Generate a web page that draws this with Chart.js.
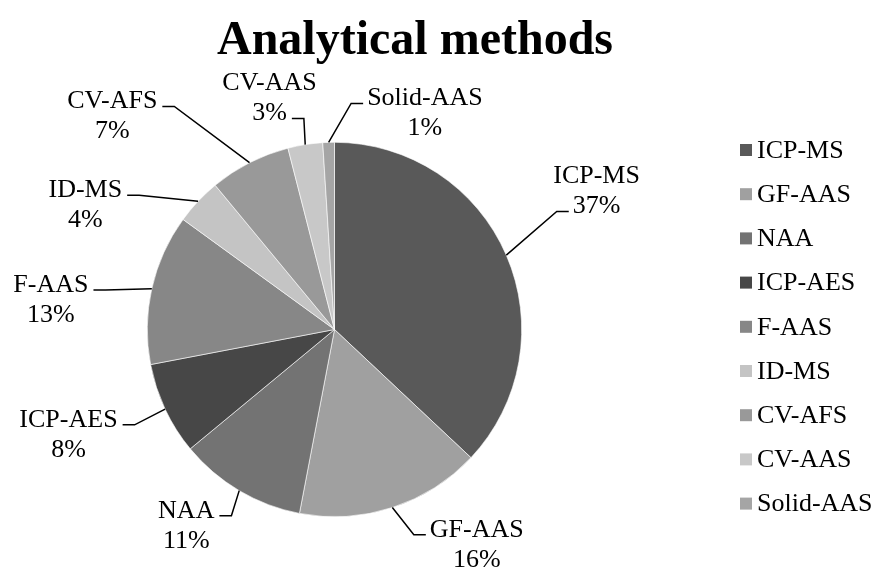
<!DOCTYPE html>
<html>
<head>
<meta charset="utf-8">
<title>Analytical methods</title>
<script src="https://cdn.jsdelivr.net/npm/chart.js@4.4.1/dist/chart.umd.min.js"></script>
<style>
    html, body { margin: 0; padding: 0; background: #ffffff; }
    #wrap { width: 879px; height: 568px; position: relative; }
</style>
</head>
<body>
<div id="wrap"><canvas id="methodsChart"></canvas></div>
<script>
// Chart data
const chartTitle = 'Analytical methods';
const methods = ['ICP-MS', 'GF-AAS', 'NAA', 'ICP-AES', 'F-AAS', 'ID-MS', 'CV-AFS', 'CV-AAS', 'Solid-AAS'];
const shares = [37, 16, 11, 8, 13, 4, 7, 3, 1];

// Styling
const sliceColors = ['#595959', '#a0a0a0', '#737373', '#474747', '#878787', '#c4c4c4', '#999999', '#c8c8c8', '#a5a5a5'];
const SERIF = '"Liberation Serif", "Times New Roman", serif';
const LABEL_FONT = '26px ' + SERIF;
const LINE_H = 30;

// Where each callout sits, relative to the pie centre, in radii (x, first baseline)
const labelSpots = [
    [1.40, -0.78], [0.76, 1.107], [-0.792, 1.005], [-1.421, 0.52], [-1.515, -0.20],
    [-1.331, -0.707], [-1.187, -1.181], [-0.347, -1.277], [0.483, -1.197]
];
// Which text line the leader meets (0 = name, 1 = percentage)
const leaderLine = [1, 0, 0, 0, 0, 0, 0, 1, 0];

const total = shares.reduce((a, b) => a + b, 0);

// Title, data callouts and legend drawn on top of the pie
const decorPlugin = {
    id: 'decor',
    afterDatasetsDraw(chart) {
        const ctx = chart.ctx;
        const arcs = chart.getDatasetMeta(0).data;
        ctx.save();

        // title
        ctx.font = 'bold 48px ' + SERIF;
        ctx.fillStyle = '#000';
        ctx.textAlign = 'center';
        ctx.textBaseline = 'alphabetic';
        ctx.fillText(chartTitle, 415, 54);

        // callouts with leader lines
        ctx.font = LABEL_FONT;
        ctx.strokeStyle = '#000';
        ctx.lineWidth = 1.5;
        arcs.forEach((arc, i) => {
            const p = arc.getProps(['x', 'y', 'outerRadius', 'startAngle', 'endAngle'], true);
            const mid = (p.startAngle + p.endAngle) / 2;
            const px = p.x + Math.cos(mid) * p.outerRadius;
            const py = p.y + Math.sin(mid) * p.outerRadius;
            const cx = p.x + labelSpots[i][0] * p.outerRadius;
            const base = p.y + labelSpots[i][1] * p.outerRadius;
            const lines = [methods[i], Math.round(shares[i] / total * 100) + '%'];

            ctx.textAlign = 'center';
            lines.forEach((t, k) => ctx.fillText(t, cx, base + k * LINE_H));

            const k = leaderLine[i];
            const w = ctx.measureText(lines[k]).width;
            const ay = base + k * LINE_H - 2;
            const onLeft = cx < px;
            const ax = onLeft ? cx + w / 2 + 5 : cx - w / 2 - 4;
            const ex = onLeft ? ax + 12 : ax - 12;
            ctx.beginPath();
            ctx.moveTo(ax, ay);
            ctx.lineTo(ex, ay);
            ctx.lineTo(px, py);
            ctx.stroke();
        });

        // legend
        ctx.textAlign = 'left';
        ctx.textBaseline = 'middle';
        methods.forEach((m, i) => {
            const cy = 150 + i * 44.2;
            ctx.fillStyle = sliceColors[i];
            ctx.fillRect(740, cy - 6, 12, 12);
            ctx.fillStyle = '#000';
            ctx.fillText(m, 757, cy + 1);
        });

        ctx.restore();
    }
};

const methodsChart = new Chart(document.getElementById('methodsChart'), {
    type: 'pie',
    data: {
        labels: methods,
        datasets: [{
            data: shares,
            backgroundColor: sliceColors,
            borderColor: '#ffffff',
            borderWidth: 0.6
        }]
    },
    options: {
        responsive: true,
        maintainAspectRatio: false,
        animation: false,
        layout: { padding: { left: 147, right: 357, top: 142, bottom: 51 } },
        plugins: {
            legend: { display: false },
            title: { display: false },
            tooltip: { enabled: false }
        }
    },
    plugins: [decorPlugin]
});
</script>
</body>
</html>
